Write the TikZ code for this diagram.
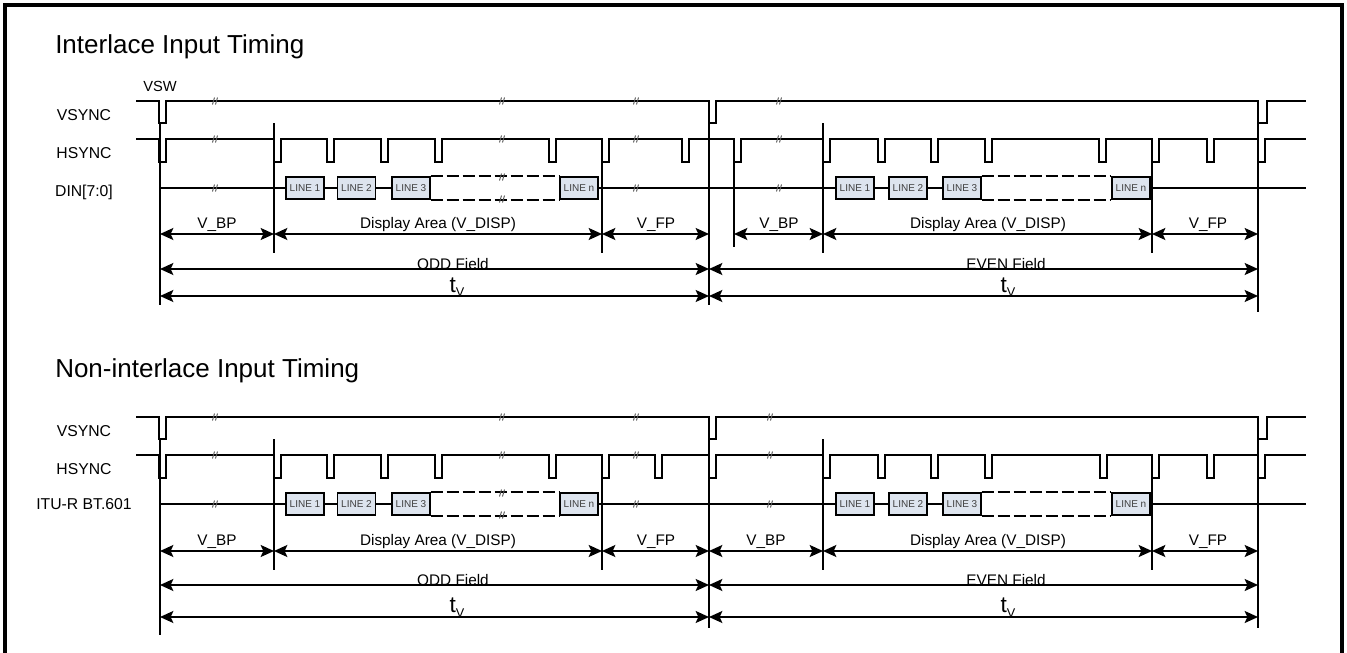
\documentclass[tikz,border=0pt]{standalone}
\usepackage{fontspec}
\setmainfont{Liberation Sans}
\usetikzlibrary{arrows.meta}
\definecolor{boxfill}{RGB}{221,228,238}
\definecolor{markgray}{RGB}{85,85,85}

\tikzset{
  wave/.style={line width=1.35pt},
  refline/.style={line width=1.1pt},
  dimarrow/.style={line width=1.35pt,{Stealth[length=10pt,width=9pt,inset=2pt]}-{Stealth[length=10pt,width=9pt,inset=2pt]}},
  linebox/.style={draw,line width=1.1pt,fill=boxfill,minimum width=28.5pt,minimum height=16.5pt,inner sep=0pt,font=\fontsize{7.5}{8}\selectfont,text=black!75},
  sig/.style={anchor=base,inner sep=0pt,font=\fontsize{11.8}{13}\selectfont},
  dimtxt/.style={anchor=base,inner sep=0pt,font=\fontsize{11.5}{13}\selectfont},
  heading/.style={anchor=base west,inner sep=0pt,font=\fontsize{19.5}{22}\selectfont},
  brk/.pic={\draw[markgray,line width=0.7pt] (-2.5,3.5) -- (-0.5,-3.5) (0.5,3.5) -- (2.5,-3.5);}
}

\newcommand{\tvlabel}{t\raisebox{-3.5pt}{\fontsize{9.5}{10}\selectfont V}}

\begin{document}
\begin{tikzpicture}[x=0.75pt,y=-0.75pt]
  \useasboundingbox (0,0) rectangle (1347,653);
  \draw[line width=2.8pt] (5,660) -- (5,5) -- (1342,5) -- (1342,660);

  \node[heading] (ttop) at (55,53) {Interlace Input Timing};
  \node[heading] (tbot) at (55,377) {Non-interlace Input Timing};

  % interlace
  \begin{scope}
    \node[anchor=base,inner sep=0pt,font=\fontsize{11}{12}\selectfont] (vsw) at (160,91) {VSW};
    \node[sig] (vs1) at (84,120) {VSYNC};
    \node[sig] (hs1) at (84,158) {HSYNC};
    \node[sig] (din1) at (84,196) {DIN[7:0]};

    \draw[wave] (136,101) -- (159,101) |- (166,123) |- (709,101) |- (716,123) |- (1258,101) |- (1267,123) |- (1306,101);
    \draw[wave] (136,139) foreach \p in {159,274,327,381,435,549,602,682,734,823,878,931,985,1099,1152,1207,1258}
      { -- (\p,139) -- (\p,162) -- ({\p+7},162) -- ({\p+7},139) } -- (1306,139);

    \node[linebox] (a1) at (305,188) {LINE 1};
    \node[linebox] (a2) at (356.5,188) {LINE 2};
    \node[linebox] (a3) at (411,188) {LINE 3};
    \node[linebox] (a4) at (579,188) {LINE n};
    \node[linebox] (b1) at (855,188) {LINE 1};
    \node[linebox] (b2) at (908,188) {LINE 2};
    \node[linebox] (b3) at (962,188) {LINE 3};
    \node[linebox] (b4) at (1131,188) {LINE n};
    \draw[wave] (160,188) -- (a1) (a1) -- (a2) (a2) -- (a3) (a4) -- (b1) (b1) -- (b2) (b2) -- (b3) (b4) -- (1306,188);
    \draw[wave,dash pattern=on 9pt off 3pt] (a3.north east) -- (a4.north west) (a3.south east) -- (a4.south west)
      (b3.north east) -- (b4.north west) (b3.south east) -- (b4.south west);

    \foreach \x in {215,636,779}
      \foreach \y in {101,139,188}
        \pic at (\x,\y) {brk};
    \foreach \y in {101,139,177,199}
      \pic at (502,\y) {brk};

    \draw[refline] (160,123) -- (160,305);
    \draw[refline] (274,123) -- (274,253);
    \draw[refline] (602,139) -- (602,253);
    \draw[refline] (709,101) -- (709,305);
    \draw[refline] (734,162) -- (734,247);
    \draw[refline] (823,123) -- (823,253);
    \draw[refline] (1152,139) -- (1152,253);
    \draw[refline] (1258,101) -- (1258,312);

    \draw[dimarrow] (160,234) -- (274,234);
    \draw[dimarrow] (274,234) -- (602,234);
    \draw[dimarrow] (602,234) -- (709,234);
    \draw[dimarrow] (734,234) -- (823,234);
    \draw[dimarrow] (823,234) -- (1152,234);
    \draw[dimarrow] (1152,234) -- (1258,234);
    \draw[dimarrow] (160,269) -- (709,269);
    \draw[dimarrow] (709,269) -- (1258,269);
    \draw[dimarrow] (160,296) -- (709,296);
    \draw[dimarrow] (709,296) -- (1258,296);

    \node[dimtxt] at (217,228.5) {V\_BP};
    \node[dimtxt] at (438,228.5) {Display Area (V\_DISP)};
    \node[dimtxt] at (656,228.5) {V\_FP};
    \node[dimtxt] at (779,228.5) {V\_BP};
    \node[dimtxt] at (988,228.5) {Display Area (V\_DISP)};
    \node[dimtxt] at (1208,228.5) {V\_FP};
    \node[dimtxt] at (453,269.5) {ODD Field};
    \node[dimtxt] at (1006,269.5) {EVEN Field};
    \node[anchor=base,inner sep=0pt,font=\fontsize{17}{18}\selectfont] at (457,292) {\tvlabel};
    \node[anchor=base,inner sep=0pt,font=\fontsize{17}{18}\selectfont] at (1008,292) {\tvlabel};
  \end{scope}

  % non-interlace
  \begin{scope}[yshift=-237pt]
    \node[sig] (vs2) at (84,120) {VSYNC};
    \node[sig] (hs2) at (84,158) {HSYNC};
    \node[sig] (itu2) at (84,193) {ITU-R BT.601};

    \draw[wave] (136,101) -- (159,101) |- (166,123) |- (709,101) |- (716,123) |- (1258,101) |- (1267,123) |- (1306,101);
    \draw[wave] (136,139) foreach \p in {159,274,327,381,435,549,602,655,709,823,878,931,985,1100,1152,1207,1258}
      { -- (\p,139) -- (\p,162) -- ({\p+7},162) -- ({\p+7},139) } -- (1306,139);

    \node[linebox] (c1) at (305,188) {LINE 1};
    \node[linebox] (c2) at (356.5,188) {LINE 2};
    \node[linebox] (c3) at (411,188) {LINE 3};
    \node[linebox] (c4) at (579,188) {LINE n};
    \node[linebox] (d1) at (855,188) {LINE 1};
    \node[linebox] (d2) at (908,188) {LINE 2};
    \node[linebox] (d3) at (962,188) {LINE 3};
    \node[linebox] (d4) at (1131,188) {LINE n};
    \draw[wave] (160,188) -- (c1) (c1) -- (c2) (c2) -- (c3) (c4) -- (d1) (d1) -- (d2) (d2) -- (d3) (d4) -- (1306,188);
    \draw[wave,dash pattern=on 9pt off 3pt] (c3.north east) -- (c4.north west) (c3.south east) -- (c4.south west)
      (d3.north east) -- (d4.north west) (d3.south east) -- (d4.south west);

    \foreach \x in {215,636,770}
      \foreach \y in {101,139,188}
        \pic at (\x,\y) {brk};
    \foreach \y in {101,139,177,199}
      \pic at (502,\y) {brk};

    \draw[refline] (160,123) -- (160,319);
    \draw[refline] (274,123) -- (274,254);
    \draw[refline] (602,139) -- (602,254);
    \draw[refline] (709,101) -- (709,312);
    \draw[refline] (823,123) -- (823,254);
    \draw[refline] (1152,139) -- (1152,254);
    \draw[refline] (1258,101) -- (1258,312);

    \draw[dimarrow] (160,235) -- (274,235);
    \draw[dimarrow] (274,235) -- (602,235);
    \draw[dimarrow] (602,235) -- (709,235);
    \draw[dimarrow] (709,235) -- (823,235);
    \draw[dimarrow] (823,235) -- (1152,235);
    \draw[dimarrow] (1152,235) -- (1258,235);
    \draw[dimarrow] (160,269) -- (709,269);
    \draw[dimarrow] (709,269) -- (1258,269);
    \draw[dimarrow] (160,301) -- (709,301);
    \draw[dimarrow] (709,301) -- (1258,301);

    \node[dimtxt] at (217,229.5) {V\_BP};
    \node[dimtxt] at (438,229.5) {Display Area (V\_DISP)};
    \node[dimtxt] at (656,229.5) {V\_FP};
    \node[dimtxt] at (766,229.5) {V\_BP};
    \node[dimtxt] at (988,229.5) {Display Area (V\_DISP)};
    \node[dimtxt] at (1208,229.5) {V\_FP};
    \node[dimtxt] at (453,269.5) {ODD Field};
    \node[dimtxt] at (1006,269.5) {EVEN Field};
    \node[anchor=base,inner sep=0pt,font=\fontsize{17}{18}\selectfont] at (457,296.5) {\tvlabel};
    \node[anchor=base,inner sep=0pt,font=\fontsize{17}{18}\selectfont] at (1008,296.5) {\tvlabel};
  \end{scope}
\end{tikzpicture}
\end{document}
